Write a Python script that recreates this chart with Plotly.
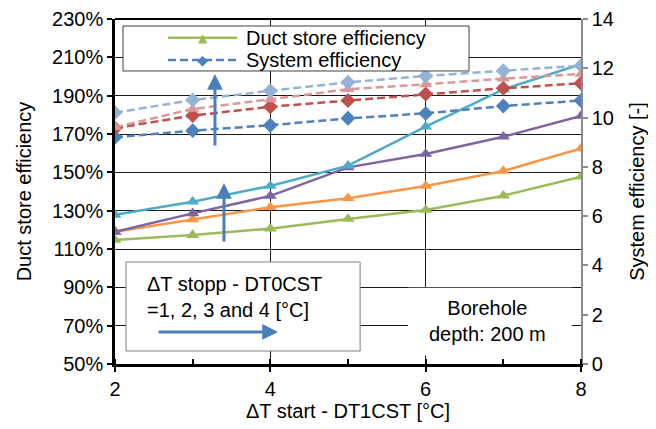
import plotly.graph_objects as go

x_vals = [2, 3, 4, 5, 6, 7, 8]

# Duct store efficiency (left axis, fraction)
duct_1 = [1.147, 1.173, 1.206, 1.257, 1.304, 1.378, 1.477]
duct_2 = [1.190, 1.255, 1.318, 1.365, 1.429, 1.507, 1.625]
duct_3 = [1.190, 1.286, 1.377, 1.526, 1.596, 1.686, 1.794]
duct_4 = [1.278, 1.347, 1.429, 1.535, 1.738, 1.933, 2.064]

# System efficiency (right axis)
sys_1 = [9.20, 9.47, 9.69, 9.97, 10.17, 10.47, 10.69]
sys_2 = [9.57, 10.08, 10.44, 10.69, 10.96, 11.19, 11.39]
sys_3 = [9.61, 10.35, 10.74, 11.15, 11.35, 11.58, 11.77]
sys_4 = [10.20, 10.71, 11.09, 11.43, 11.69, 11.90, 12.11]

duct_colors = ["#9bbb59", "#f79646", "#8064a2", "#4bacc6"]
sys_colors = ["#4f81bd", "#c0504d", "#dc9896", "#95b3d7"]
sys_symbols = ["diamond", "diamond", "triangle-up", "diamond"]

legend_labels = ["Duct store efficiency", "System efficiency"]

FONT = "Liberation Sans, Arial, sans-serif"
FS = 20
DASH = "8px,4px"

fig = go.Figure()

for i, (vals, col) in enumerate(zip([duct_1, duct_2, duct_3, duct_4], duct_colors)):
    fig.add_trace(go.Scatter(
        x=x_vals, y=vals, mode="lines+markers",
        name=legend_labels[0], showlegend=False,
        line=dict(color=col, width=2.5),
        marker=dict(symbol="triangle-up", size=11.5, color=col),
        yaxis="y",
    ))

for i, (vals, col, sym) in enumerate(zip([sys_1, sys_2, sys_3, sys_4], sys_colors, sys_symbols)):
    fig.add_trace(go.Scatter(
        x=x_vals, y=vals, mode="lines+markers",
        name=legend_labels[1], showlegend=False,
        line=dict(color=col, width=2.5, dash=DASH),
        marker=dict(symbol=sym, size=11.5, color=col),
        yaxis="y2",
    ))

# legend geometry (paper coords)
LX0, LX1, LY0, LY1 = 0.0172, 0.7597, 0.8493, 0.9797
ROW1, ROW2 = 0.9458, 0.8812
SX0, SX1, SXM, TX = 0.1137, 0.2618, 0.1888, 0.2768

shapes = [
    # top border
    dict(type="line", xref="paper", yref="paper", x0=0, x1=1, y0=1, y1=1,
         line=dict(color="black", width=2), layer="above"),
    # legend box
    dict(type="rect", xref="paper", yref="paper", x0=LX0, x1=LX1, y0=LY0, y1=LY1,
         fillcolor="white", line=dict(color="#404040", width=1), layer="above"),
    dict(type="line", xref="paper", yref="paper", x0=SX0, x1=SX1, y0=ROW1, y1=ROW1,
         line=dict(color=duct_colors[0], width=2.5), layer="above"),
    dict(type="line", xref="paper", yref="paper", x0=SX0, x1=SX1, y0=ROW2, y1=ROW2,
         line=dict(color=sys_colors[0], width=2.5, dash=DASH), layer="above"),
    # left annotation box
    dict(type="rect", xref="paper", yref="paper", x0=0.0236, x1=0.526, y0=0.0377, y1=0.2957,
         fillcolor="white", line=dict(color="#7f7f7f", width=1), layer="above"),
    # borehole box (no border)
    dict(type="rect", xref="paper", yref="paper", x0=0.629, x1=0.98, y0=0.025, y1=0.2213,
         fillcolor="white", line=dict(width=0), layer="above"),
]

arrow_col = "#4a7ebb"
annotations = [
    dict(x=3.287, y=2.013, xref="x", yref="y", ax=0, ay=73, showarrow=True,
         arrowhead=2, arrowsize=1.05, arrowwidth=3, arrowcolor=arrow_col, text=""),
    dict(x=3.403, y=1.444, xref="x", yref="y", ax=0, ay=60, showarrow=True,
         arrowhead=2, arrowsize=1.05, arrowwidth=3, arrowcolor=arrow_col, text=""),
    dict(x=4.099, y=0.667, xref="x", yref="y", ax=-121, ay=0, showarrow=True,
         arrowhead=2, arrowsize=1.05, arrowwidth=3, arrowcolor=arrow_col, text=""),
    dict(x=0.064, y=0.195, xref="paper", yref="paper", xanchor="left", yanchor="middle",
         align="left", showarrow=False,
         text="ΔT stopp - DT0CST<br>=1, 2, 3 and 4 [°C]",
         font=dict(family=FONT, size=FS, color="black")),
    dict(x=0.80, y=0.125, xref="paper", yref="paper", xanchor="center", yanchor="middle",
         align="center", showarrow=False,
         text="Borehole<br>depth: 200 m",
         font=dict(family=FONT, size=FS, color="black")),
    # legend entries
    dict(x=SXM, y=ROW1, xref="paper", yref="paper", xanchor="center", yanchor="middle",
         showarrow=False, text="▲", font=dict(family="DejaVu Sans", size=12, color=duct_colors[0])),
    dict(x=SXM, y=ROW2, xref="paper", yref="paper", xanchor="center", yanchor="middle",
         showarrow=False, text="◆", font=dict(family="DejaVu Sans", size=14, color=sys_colors[0])),
    dict(x=TX, y=ROW1, xref="paper", yref="paper", xanchor="left", yanchor="middle",
         showarrow=False, text=legend_labels[0], font=dict(family=FONT, size=FS, color="black")),
    dict(x=TX, y=ROW2, xref="paper", yref="paper", xanchor="left", yanchor="middle",
         showarrow=False, text=legend_labels[1], font=dict(family=FONT, size=FS, color="black")),
]

# page has an 8px body margin: figure is sized so that it fills the 656x429 window
fig.update_layout(
    width=648, height=421,
    margin=dict(l=107, r=75, t=11, b=65, autoexpand=False),
    paper_bgcolor="white", plot_bgcolor="white",
    font=dict(family=FONT, size=FS, color="black"),
    showlegend=False,
    xaxis=dict(range=[2, 8], dtick=2, tick0=2, showgrid=True, gridcolor="#1a1a1a", gridwidth=1,
               showline=True, linecolor="black", linewidth=2.5,
               ticks="outside", ticklen=5, tickcolor="black", tickwidth=1.5,
               minor=dict(dtick=1, ticks="inside", ticklen=5, tickcolor="black", showgrid=False),
               zeroline=False, automargin=False,
               title=dict(text="ΔT start - DT1CST [°C]", standoff=4,
                          font=dict(family=FONT, size=FS))),
    yaxis=dict(range=[0.5, 2.3], dtick=0.2, tick0=0.5, tickformat=".0%",
               showgrid=True, gridcolor="#1a1a1a", gridwidth=1,
               showline=True, linecolor="black", linewidth=2.5,
               ticks="outside", ticklen=5, tickcolor="black", tickwidth=1.5,
               zeroline=False, automargin=False,
               title=dict(text="Duct store efficiency", standoff=16,
                          font=dict(family=FONT, size=FS))),
    yaxis2=dict(range=[0, 14], dtick=2, overlaying="y", side="right",
                showgrid=False, showline=True, linecolor="#8c8c8c", linewidth=1.5,
                ticks="outside", ticklen=5, tickcolor="#8c8c8c", tickwidth=1.5,
                zeroline=False, automargin=False,
                title=dict(text="System efficiency [-]", standoff=17,
                           font=dict(family=FONT, size=FS))),
    shapes=shapes,
    annotations=annotations,
)

fig.write_html("out.html")
